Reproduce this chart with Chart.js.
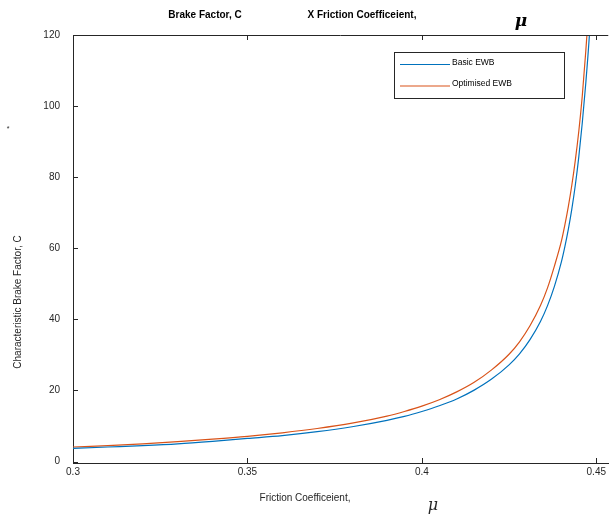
<!DOCTYPE html>
<html lang="en">
<head>
<meta charset="UTF-8">
<title>Brake Factor vs Friction Coefficient</title>
<script src="https://cdn.jsdelivr.net/npm/chart.js"></script>
<style>
  html, body { margin: 0; padding: 0; background: #fff; }
  canvas { display: block; }
</style>
</head>
<body>
<canvas id="chart" width="609" height="514"></canvas>
<script>
// Friction coefficient (x) and brake factor values
const muBasic = [0.300, 0.310, 0.320, 0.330, 0.340, 0.350, 0.360, 0.370, 0.380, 0.390,
                 0.395, 0.400, 0.405, 0.410, 0.415, 0.420, 0.425, 0.428, 0.431, 0.434,
                 0.436, 0.438, 0.440, 0.441, 0.442, 0.443, 0.444, 0.445, 0.446, 0.447,
                 0.448, 0.4485];
const basicEWB = [3.7, 4.1, 4.5, 5.0, 5.7, 6.5, 7.3, 8.4, 9.8, 11.6,
                  12.7, 14.1, 15.7, 17.6, 20.1, 23.2, 27.2, 30.3, 34.3, 39.4,
                  43.8, 49.3, 56.2, 60.5, 65.4, 71.1, 77.8, 85.8, 95.4, 106.5,
                  119.5, 128];

const muOpt = [0.300, 0.310, 0.320, 0.330, 0.340, 0.350, 0.360, 0.370, 0.380, 0.390,
               0.395, 0.400, 0.405, 0.410, 0.415, 0.420, 0.425, 0.428, 0.431, 0.434,
               0.436, 0.438, 0.440, 0.441, 0.442, 0.443, 0.444, 0.445, 0.446, 0.447,
               0.4475, 0.448];
const optimisedEWB = [4.1, 4.5, 5.0, 5.6, 6.3, 7.1, 8.1, 9.3, 10.8, 12.8,
                      14.1, 15.6, 17.4, 19.6, 22.3, 25.8, 30.2, 33.7, 38.2, 43.9,
                      48.8, 55.0, 62.0, 66.6, 71.8, 77.8, 84.8, 93.0, 103.0, 115.5,
                      122.5, 130];

const xTicks = [0.3, 0.35, 0.4, 0.45];
const yTicks = [0, 20, 40, 60, 80, 100, 120];

const seriesNames = ['Basic EWB', 'Optimised EWB'];
const seriesColors = ['#0072BD', '#D95319'];

const axisColor = '#262626';
const font = 'Liberation Sans, Arial, sans-serif';

// titles, tick marks, box and legend drawn like the MATLAB figure
const decorations = {
  id: 'decorations',
  afterDraw(chart) {
    const ctx = chart.ctx;
    const area = chart.chartArea;
    const xs = chart.scales.x, ys = chart.scales.y;
    ctx.save();

    // top box line
    ctx.strokeStyle = axisColor;
    ctx.lineWidth = 1;
    ctx.beginPath();
    ctx.moveTo(area.left, area.top + 0.5);
    ctx.lineTo(area.right, area.top + 0.5);
    ctx.stroke();

    // inward tick marks
    ctx.beginPath();
    xTicks.forEach(v => {
      const px = Math.round(xs.getPixelForValue(v)) + 0.5;
      ctx.moveTo(px, area.bottom); ctx.lineTo(px, area.bottom - 5);
      ctx.moveTo(px, area.top); ctx.lineTo(px, area.top + 5);
    });
    yTicks.forEach(v => {
      const py = Math.round(ys.getPixelForValue(v)) + 0.5;
      ctx.moveTo(area.left, py); ctx.lineTo(area.left + 5, py);
    });
    ctx.stroke();

    // title pieces
    ctx.fillStyle = '#000';
    ctx.textAlign = 'center';
    ctx.textBaseline = 'middle';
    ctx.font = 'bold 10px ' + font;
    ctx.fillText('Brake Factor, C', 205, 15);
    ctx.fillText('X Friction Coefficeient,', 362, 15);
    ctx.font = 'italic bold 17px DejaVu Serif, serif';
    ctx.fillText('\u03BC', 521, 22);

    // axis titles
    ctx.fillStyle = axisColor;
    ctx.font = '10px ' + font;
    ctx.fillText('Friction Coefficeient,', 305, 498);
    ctx.font = 'italic 16px DejaVu Serif, serif';
    ctx.fillText('\u03BC', 433, 506);
    ctx.font = '10px ' + font;
    ctx.save();
    ctx.translate(18, 302);
    ctx.rotate(-Math.PI / 2);
    ctx.fillText('Characteristic Brake Factor, C', 0, 0);
    ctx.restore();
    ctx.font = '7px ' + font;
    ctx.fillText('*', 8, 129);

    // legend
    const lx = 394.5, ly = 52.5, lw = 170, lh = 46;
    ctx.fillStyle = '#fff';
    ctx.fillRect(lx, ly, lw, lh);
    ctx.strokeStyle = axisColor;
    ctx.strokeRect(lx, ly, lw, lh);
    ctx.font = '8.5px ' + font;
    ctx.textAlign = 'left';
    seriesNames.forEach((name, i) => {
      const yy = 64 + i * 21.5;
      ctx.strokeStyle = seriesColors[i];
      ctx.lineWidth = 1.2;
      ctx.beginPath();
      ctx.moveTo(400, yy + 0.5); ctx.lineTo(450, yy + 0.5);
      ctx.stroke();
      ctx.fillStyle = '#000';
      ctx.fillText(name, 452, yy - 1.5);
    });
    ctx.restore();
  }
};

new Chart(document.getElementById('chart'), {
  type: 'line',
  data: {
    datasets: [
      {
        label: seriesNames[0],
        data: muBasic.map((m, i) => ({ x: m, y: basicEWB[i] })),
        borderColor: seriesColors[0],
        borderWidth: 1.2,
        pointRadius: 0,
        cubicInterpolationMode: 'monotone',
        fill: false
      },
      {
        label: seriesNames[1],
        data: muOpt.map((m, i) => ({ x: m, y: optimisedEWB[i] })),
        borderColor: seriesColors[1],
        borderWidth: 1.2,
        pointRadius: 0,
        cubicInterpolationMode: 'monotone',
        fill: false
      }
    ]
  },
  options: {
    responsive: false,
    animation: false,
    layout: { padding: { top: 35, right: 0, left: 0, bottom: 0 } },
    plugins: { legend: { display: false }, title: { display: false }, tooltip: { enabled: false } },
    scales: {
      x: {
        type: 'linear',
        min: 0.3,
        max: 0.45344,
        afterBuildTicks: s => { s.ticks = xTicks.map(v => ({ value: v })); },
        afterFit: s => { s.height = 51; },
        grid: { display: false, drawTicks: false },
        border: { display: true, color: axisColor, width: 1 },
        ticks: {
          color: axisColor,
          font: { family: font, size: 10 },
          padding: 3,
          maxRotation: 0,
          callback: v => String(+v.toFixed(2))
        }
      },
      y: {
        min: -0.4,
        max: 120,
        afterBuildTicks: s => { s.ticks = yTicks.map(v => ({ value: v })); },
        afterFit: s => { s.width = 73; },
        grid: { display: false, drawTicks: false },
        border: { display: true, color: axisColor, width: 1 },
        ticks: {
          color: axisColor,
          font: { family: font, size: 10 },
          padding: 13
        }
      }
    }
  },
  plugins: [decorations]
});
</script>
</body>
</html>
